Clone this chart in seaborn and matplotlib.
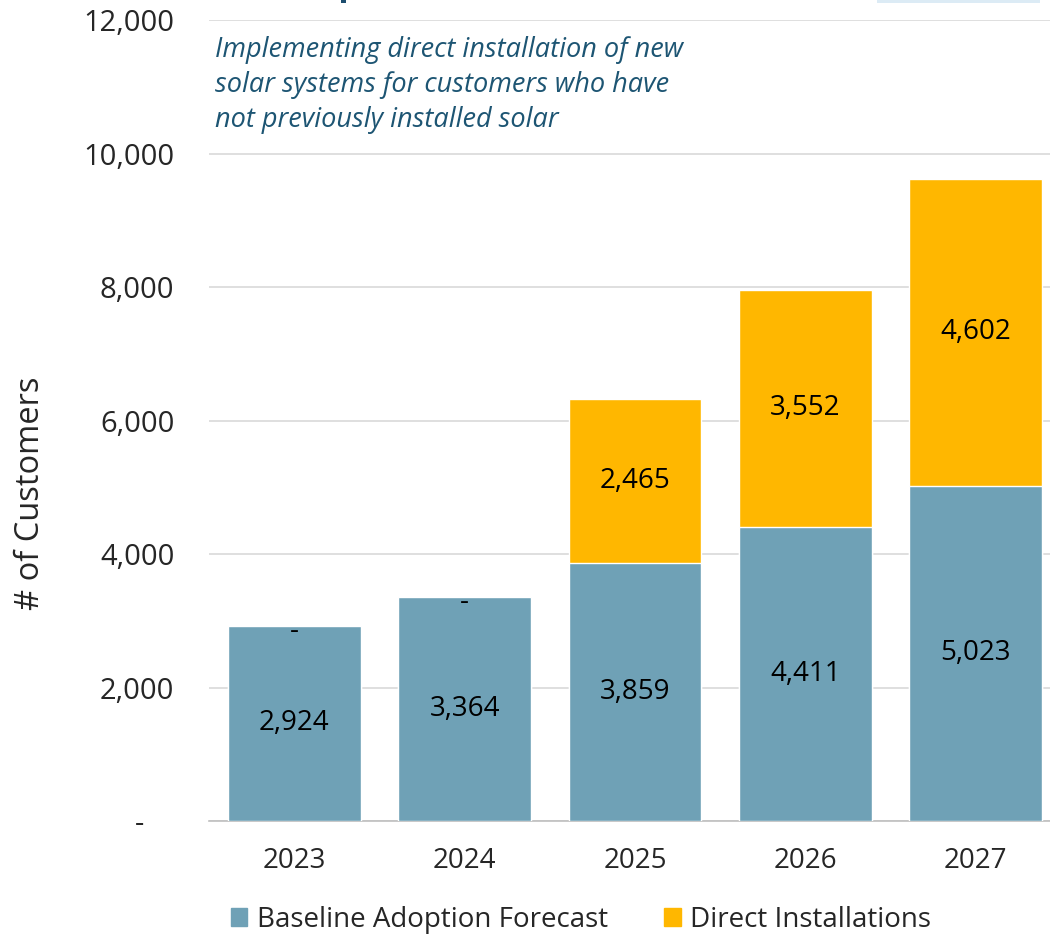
import matplotlib
matplotlib.use("Agg")
import matplotlib.pyplot as plt
import seaborn as sns
import pandas as pd
import numpy as np
from matplotlib.patches import Rectangle

years = ["2023", "2024", "2025", "2026", "2027"]
baseline = [2924, 3364, 3859, 4411, 5023]
direct = [0, 0, 2465, 3552, 4602]
series_names = ["Baseline Adoption Forecast", "Direct Installations"]
colors = ["#6FA1B6", "#FFB700"]
subtitle = "Implementing direct installation of new\nsolar systems for customers who have\nnot previously installed solar"
ylabel = "# of Customers"

sns.set_theme(style="white")
plt.rcParams["font.family"] = ["Open Sans", "DejaVu Sans"]

df = pd.DataFrame({"year": years, "baseline": baseline, "direct": direct})
df["total"] = df["baseline"] + df["direct"]

fig = plt.figure(figsize=(10.5, 9.36), dpi=100)
ax = fig.add_axes([209/1050, 0.1228, 852/1050, 0.8558])

sns.barplot(data=df, x="year", y="total", color=colors[1], saturation=1,
            width=0.78, ax=ax, edgecolor="white", linewidth=1, zorder=2)
sns.barplot(data=df, x="year", y="baseline", color=colors[0], saturation=1,
            width=0.78, ax=ax, edgecolor="white", linewidth=1, zorder=3)

# labels
for i, (b, d) in enumerate(zip(baseline, direct)):
    ax.text(i, b / 2, f"{b:,}", ha="center", va="center", fontsize=20, color="black", zorder=5)
    if d > 0:
        ax.text(i, b + d / 2, f"{d:,}", ha="center", va="center", fontsize=20, color="black", zorder=5)
    else:
        ax.text(i, b - 180, "-", ha="center", va="baseline", fontsize=20, color="black", zorder=5)

ax.set_xlim(-0.5, 4.5)
ax.set_ylim(0, 12000)
ticks = np.arange(0, 12001, 2000)
ax.set_yticks(ticks)
ax.set_yticklabels(["-    " if t == 0 else f"{t:,}" for t in ticks], fontsize=21)
ax.tick_params(axis="y", length=0, pad=25)
ax.tick_params(axis="x", length=0, labelsize=20, pad=19)
ax.yaxis.grid(True, color="#D9D9D9", linewidth=1.2, zorder=0)
ax.set_axisbelow(True)
for s in ["top", "right", "left"]:
    ax.spines[s].set_visible(False)
ax.spines["bottom"].set_color("#BFBFBF")
ax.spines["bottom"].set_linewidth(1.2)
ax.set_xlabel("")
ax.set_ylabel("")
fig.text(31/1050, 1 - 493/936, ylabel, rotation=90, ha="center", va="center", fontsize=23.5)

ax.text(6/852, 1 - 16/801, subtitle, transform=ax.transAxes, ha="left", va="top",
        fontsize=19.5, style="italic", color="#1D5573", linespacing=1.33)

# fragments of cut-off header at top
fig.patches.append(Rectangle((877/1050, 1 - 3/936), 163/1050, 3/936, transform=fig.transFigure,
                             facecolor="#DCEBF5", edgecolor="none"))
fig.patches.append(Rectangle((341/1050, 1 - 3/936), 5/1050, 3/936, transform=fig.transFigure,
                             facecolor="#1D4E6F", edgecolor="none"))

handles = [Rectangle((0, 0), 1, 1, color=c) for c in colors]
fig.legend(handles, series_names, loc="center", bbox_to_anchor=(581/1050, 1 - 920/936),
           ncol=2, frameon=False, fontsize=20, handlelength=0.6, handleheight=0.6,
           columnspacing=2.0, handletextpad=0.35)

fig.savefig("out.png", dpi=100)
